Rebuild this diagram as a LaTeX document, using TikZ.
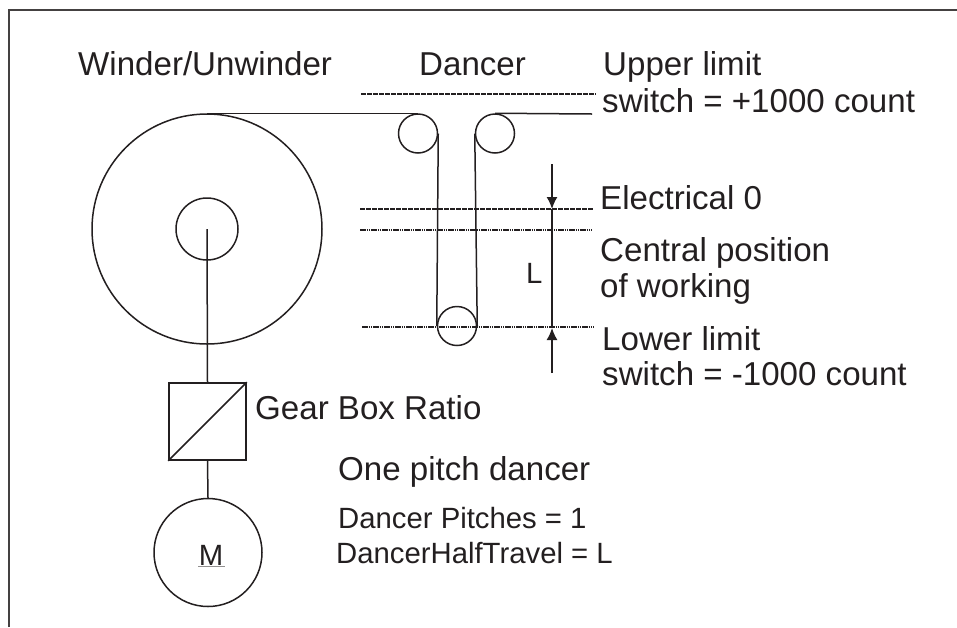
\documentclass[tikz,border=0pt]{standalone}
\usepackage{fontspec}
\setmainfont{Liberation Sans}
\usetikzlibrary{arrows.meta}
\definecolor{ink}{RGB}{35,31,32}
\tikzset{
  x=1pt,y=-1pt,
  wire/.style={draw=ink,line width=1.5pt},
  frameline/.style={draw=ink!85,line width=1.6pt},
  dashline/.style={draw=ink,line width=1.1pt,dash pattern=on 4.5pt off 1.5pt},
  dotline/.style={draw=ink,line width=1.2pt,dash pattern=on 1.5pt off 0.7pt},
  disc/.style={circle,wire,inner sep=0pt,minimum size=#1},
  big/.style={anchor=base west,text=ink,font=\fontsize{33.1}{36}\selectfont,inner sep=0pt},
  small/.style={anchor=base west,text=ink,font=\fontsize{29.3}{32}\selectfont,inner sep=0pt},
  dimarrow/.style={wire,-{Latex[length=12pt,width=11pt]}},
}
\begin{document}
\begin{tikzpicture}
\useasboundingbox (0,0) rectangle (957,627);
\coordinate (fbl) at (9,627);
\coordinate (ftl) at (9,10);
\coordinate (ftr) at (957,10);
\draw[frameline] (fbl) -- (ftl) -- (ftr);
% winder
\node[disc=230pt] (reel) at (207,229) {};
\node[disc=62pt] (core) at (207,229) {};
\coordinate (shafttop) at (207,229);
% pulleys
\node[disc=39pt] (pl) at (418,133.5) {};
\node[disc=39pt] (pr) at (495,133.5) {};
\node[disc=39pt] (pb) at (457,326) {};
\coordinate (webend) at (592,114);
% web
\draw[wire] (reel.north) -- (pl.north);
\draw[wire] (pl.east) -- (pb.west);
\draw[wire] (pr.west) -- (pb.east);
\draw[wire] (pr.north) -- (webend);
% gear box
\node[draw=ink,line width=1.6pt,minimum size=77pt,inner sep=0pt] (gear) at (207.5,421.5) {};
\draw[wire] (gear.south west) -- (gear.north east);
\node[disc=108pt] (motor) at (208,552.5) {};
\draw[wire] (shafttop) -- (gear.north);
\draw[wire] (gear.south) -- (motor.north);
\node[text=ink,font=\fontsize{29.3}{32}\selectfont,inner sep=0pt,anchor=base] (mlabel) at (211,565) {M};
\draw[draw=ink!50,line width=0.6pt] (198,565.8) -- (225,565.8);
% limit lines
\coordinate (ua) at (361,94); \coordinate (ub) at (596,94);
\coordinate (ea) at (360,209); \coordinate (eb) at (593,209);
\coordinate (ca) at (360,230); \coordinate (cb) at (592,230);
\coordinate (la) at (362,327); \coordinate (lb) at (594,327);
\draw[dashline] (ua) -- (ub);
\draw[dashline] (ea) -- (eb);
\draw[dotline] (ca) -- (cb);
\draw[dotline] (la) -- (lb);
% dimension
\coordinate (dt) at (552,164); \coordinate (dte) at (552,209);
\coordinate (db) at (552,373); \coordinate (dbe) at (552,328);
\draw[dimarrow] (dt) -- (dte);
\draw[dimarrow] (db) -- (dbe);
\draw[wire] (dte) -- (dbe);
\node[small] (ltxt) at (526,283) {L};
% texts
\node[big] (t1) at (78,75) {Winder/Unwinder};
\node[big] (t2) at (419,75) {Dancer};
\node[big] (t3) at (603,75) {Upper limit};
\node[big] (t4) at (602,112) {switch = +1000 count};
\node[big] (t5) at (600,209) {Electrical 0};
\node[big] (t6) at (600,261) {Central position};
\node[big] (t7) at (600,297) {of working};
\node[big] (t8) at (602,350) {Lower limit};
\node[big] (t9) at (602,385) {switch = -1000 count};
\node[big] (t10) at (255,419) {Gear Box Ratio};
\node[big] (t11) at (338,480) {One pitch dancer};
\node[small] (t12) at (338,528) {Dancer Pitches = 1};
\node[small] (t13) at (336,563) {DancerHalfTravel = L};
\end{tikzpicture}
\end{document}
